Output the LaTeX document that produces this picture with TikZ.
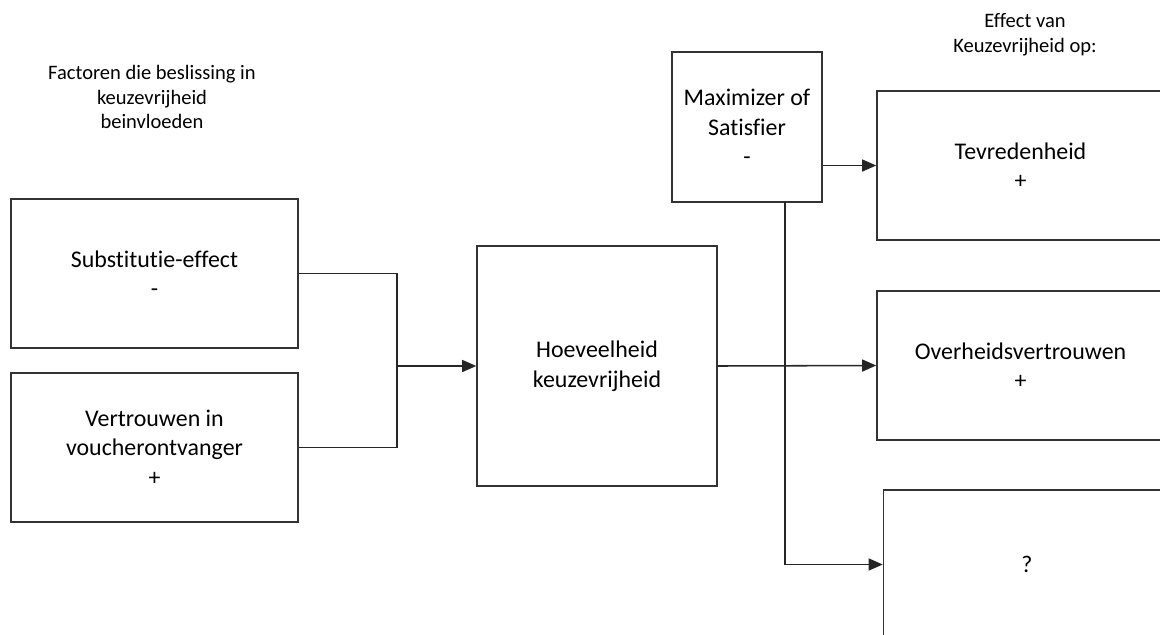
\documentclass[tikz,border=0pt]{standalone}
\usepackage{fontspec}
\setmainfont{Carlito}[Ligatures=NoCommon]
\usetikzlibrary{arrows.meta}

\begin{document}
\begin{tikzpicture}[x=0.025cm,y=-0.025cm,
  blok/.style={draw=black!80,line width=1pt,align=center,
    font=\fontsize{17}{21}\selectfont,minimum width=7.175cm,minimum height=3.725cm},
  kop/.style={align=center,font=\fontsize{14.6}{17.6}\selectfont},
  lijn/.style={draw=black!85,line width=1.1pt},
  pijl/.style={lijn,-{Triangle[length=10pt,width=8.5pt]}}]

\useasboundingbox (0,0) rectangle (1160,634);
\clip (0,0) rectangle (1160,634);

%koppen
\node[kop] (kopl) at (152,97) {Factoren die beslissing in\\keuzevrijheid\\beinvloeden};
\node[kop] (kopr) at (1025,35) {Effect van\\Keuzevrijheid op:};

%factoren
\node[blok] (subst) at (154.5,273.5) {Substitutie-effect\\-};
\node[blok] (vertr) at (154.5,447.5) {Vertrouwen in\\voucherontvanger\\+};

%midden
\node[blok,minimum width=6cm,minimum height=6cm] (hoev) at (597,366) {Hoeveelheid\\keuzevrijheid};
\node[blok,minimum width=3.75cm,minimum height=3.75cm] (maxi) at (747,127) {Maximizer of\\Satisfier\\-};

%effecten
\node[blok] (tevr) at (1020.5,165.5) {Tevredenheid\\+};
\node[blok] (overh) at (1020.5,365.5) {Overheidsvertrouwen\\+};
\node[blok] (vraag) at (1027,564.5) {?};

%verbindingen
\coordinate (knoop) at (397,366);
\draw[lijn] (subst.east) -| (knoop) |- (vertr.east);
\draw[pijl] (knoop) -- (hoev.west);
\draw[pijl] (tevr.west -| maxi.east) -- (tevr.west);
\draw[pijl] (hoev.east) -- (overh.west);
\coordinate (aftak) at (785,202);
\draw[pijl] (aftak) |- (vraag.west);

\end{tikzpicture}
\end{document}
